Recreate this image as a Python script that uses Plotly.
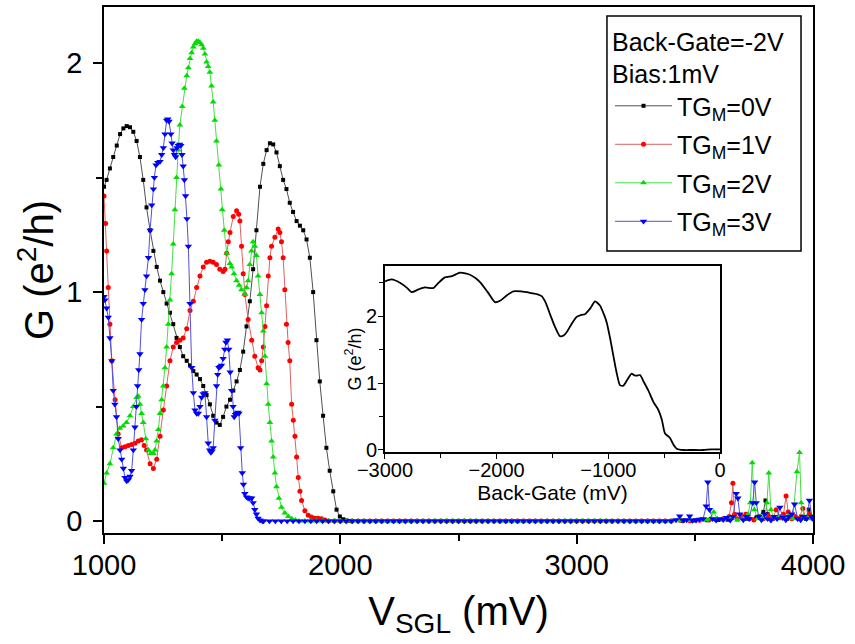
import plotly.graph_objects as go

# ---------------- data ----------------
# TG_M = 0 V (black)
B_V = [1000, 1011, 1025, 1039, 1054, 1068, 1082, 1096, 1110, 1124,
       1138, 1152, 1166, 1180, 1195, 1209, 1223, 1237, 1251, 1265,
       1279, 1293, 1307, 1321, 1335, 1350, 1364, 1378, 1392, 1406,
       1420, 1434, 1448, 1462, 1476, 1490, 1504, 1518, 1533, 1547,
       1561, 1575, 1589, 1603, 1617, 1631, 1645, 1660, 1674, 1688,
       1702, 1716, 1730, 1744, 1758, 1772, 1786, 1800, 1815, 1829,
       1843, 1857, 1871, 1885, 1899, 1913, 1927, 1941, 1955, 1970,
       1984, 1998, 2012, 2026, 2040]
B_G = [1.46, 1.49, 1.54, 1.59, 1.64, 1.69, 1.715, 1.725, 1.72, 1.70,
       1.66, 1.59, 1.49, 1.37, 1.27, 1.18, 1.11, 1.05, 1.00, 0.95,
       0.91, 0.86, 0.80, 0.76, 0.72, 0.70, 0.68, 0.655, 0.64, 0.62,
       0.59, 0.55, 0.51, 0.46, 0.43, 0.42, 0.455, 0.50, 0.53, 0.57,
       0.61, 0.66, 0.74, 0.85, 0.96, 1.10, 1.27, 1.46, 1.56, 1.62,
       1.65, 1.645, 1.61, 1.55, 1.49, 1.45, 1.39, 1.35, 1.31, 1.29,
       1.27, 1.23, 1.15, 1.00, 0.79, 0.61, 0.46, 0.32, 0.22, 0.13,
       0.05, 0.02, 0.008, 0.003, 0.0]
B_TAIL_V = [3400, 3450, 3500, 3550, 3600, 3640, 3680, 3720, 3760, 3790,
            3799, 3808, 3830, 3860, 3890, 3920, 3950, 3970, 3982, 3995]
B_TAIL_G = [0.0, 0.002, 0.003, 0.004, 0.005, 0.006, 0.008, 0.01, 0.015, 0.04,
            0.09, 0.03, 0.01, 0.02, 0.01, 0.015, 0.02, 0.01, 0.05, 0.02]

# TG_M = 1 V (red)
R_V = [1000, 1007, 1011, 1018, 1025, 1033, 1047, 1060, 1075, 1089,
       1103, 1117, 1131, 1145, 1159, 1170, 1180, 1195, 1209, 1223,
       1237, 1251, 1265, 1279, 1293, 1307, 1321, 1335, 1350, 1364,
       1378, 1392, 1406, 1420, 1434, 1448, 1462, 1476, 1490, 1504,
       1512, 1519, 1526, 1533, 1547, 1561, 1570, 1575, 1582, 1589,
       1596, 1610, 1625, 1638, 1652, 1660, 1667, 1674, 1681, 1688,
       1695, 1702, 1709, 1723, 1737, 1744, 1751, 1758, 1765, 1772,
       1779, 1786, 1794, 1801, 1808, 1815, 1822, 1829, 1836, 1850,
       1864, 1878, 1892, 1906, 1920, 1935, 1950]
R_G = [1.42, 1.30, 1.18, 1.02, 0.86, 0.70, 0.53, 0.38, 0.32, 0.325,
       0.33, 0.335, 0.34, 0.35, 0.355, 0.33, 0.31, 0.25, 0.23, 0.27,
       0.37, 0.485, 0.59, 0.70, 0.76, 0.78, 0.79, 0.80, 0.84, 0.92,
       0.96, 1.02, 1.07, 1.11, 1.13, 1.135, 1.13, 1.12, 1.10, 1.09,
       1.10, 1.17, 1.22, 1.26, 1.33, 1.355, 1.34, 1.31, 1.20, 1.08,
       0.99, 0.88, 0.79, 0.72, 0.67, 0.66, 0.70, 0.76, 0.85, 0.94,
       1.07, 1.15, 1.20, 1.24, 1.275, 1.26, 1.22, 1.15, 1.01, 0.86,
       0.78, 0.70, 0.51, 0.44, 0.37, 0.28, 0.19, 0.13, 0.09, 0.045,
       0.026, 0.018, 0.012, 0.012, 0.01, 0.005, 0.0]
R_TAIL_V = [3400, 3440, 3480, 3520, 3560, 3590, 3620, 3645, 3655, 3661,
            3668, 3680, 3700, 3716, 3730, 3750, 3770, 3790, 3810, 3830,
            3844, 3860, 3875, 3886, 3895, 3910, 3925, 3940, 3957, 3970,
            3985, 4000]
R_TAIL_G = [0.0, 0.003, 0.002, 0.004, 0.005, 0.006, 0.01, 0.02, 0.08, 0.165,
            0.03, 0.01, 0.02, 0.03, 0.01, 0.005, 0.02, 0.01, 0.025, 0.01,
            0.05, 0.015, 0.03, 0.11, 0.04, 0.01, 0.02, 0.01, 0.055, 0.015,
            0.03, 0.01]

# TG_M = 2 V (green)
G_V = [1000, 1011, 1025, 1039, 1053, 1067, 1081, 1095, 1110, 1124,
       1138, 1145, 1152, 1159, 1166, 1177, 1188, 1198, 1209, 1216,
       1223, 1230, 1237, 1244, 1251, 1258, 1265, 1272, 1279, 1286,
       1293, 1300, 1307, 1314, 1321, 1331, 1340, 1350, 1357, 1364,
       1371, 1378, 1385, 1392, 1399, 1406, 1413, 1420, 1427, 1434,
       1441, 1448, 1455, 1462, 1469, 1476, 1486, 1495, 1500, 1509,
       1519, 1533, 1540, 1550, 1561, 1572, 1582, 1596, 1603, 1610,
       1617, 1624, 1631, 1638, 1645, 1652, 1660, 1667, 1674, 1681,
       1688, 1695, 1702, 1709, 1716, 1723, 1730, 1740, 1751, 1765,
       1780, 1795, 1810, 1825]
G_G = [0.165, 0.21, 0.25, 0.32, 0.38, 0.405, 0.415, 0.43, 0.46, 0.50,
       0.54, 0.545, 0.51, 0.47, 0.43, 0.36, 0.31, 0.295, 0.295, 0.31,
       0.35, 0.40, 0.47, 0.53, 0.59, 0.67, 0.76, 0.86, 0.965, 1.08,
       1.21, 1.36, 1.50, 1.62, 1.73, 1.81, 1.89, 1.945, 1.98, 2.02,
       2.045, 2.07, 2.085, 2.095, 2.095, 2.09, 2.08, 2.065, 2.04, 2.005,
       1.985, 1.96, 1.90, 1.83, 1.75, 1.66, 1.555, 1.45, 1.36, 1.27,
       1.17, 1.125, 1.11, 1.08, 1.05, 1.03, 1.01, 0.99, 1.02, 1.05,
       1.12, 1.18, 1.22, 1.20, 1.16, 1.07, 0.99, 0.91, 0.83, 0.72,
       0.60, 0.51, 0.43, 0.35, 0.28, 0.21, 0.15, 0.10, 0.06, 0.035,
       0.02, 0.01, 0.005, 0.0]
G_TAIL_V = [3400, 3440, 3480, 3520, 3550, 3565, 3580, 3595, 3620, 3650,
            3680, 3705, 3725, 3735, 3743, 3752, 3765, 3780, 3795, 3805,
            3813, 3822, 3835, 3855, 3875, 3895, 3915, 3932, 3943, 3950,
            3962, 3980, 4000]
G_TAIL_G = [0.0, 0.002, 0.003, 0.004, 0.005, 0.01, 0.04, 0.01, 0.005, 0.01,
            0.005, 0.01, 0.03, 0.08, 0.255, 0.05, 0.01, 0.02, 0.01, 0.08,
            0.21, 0.05, 0.01, 0.02, 0.01, 0.02, 0.01, 0.215, 0.30, 0.08,
            0.02, 0.01, 0.02]

# TG_M = 3 V (blue)
U_V = [1000, 1004, 1011, 1018, 1025, 1033, 1039, 1046, 1053, 1060,
       1068, 1075, 1082, 1089, 1096, 1103, 1110, 1117, 1124, 1131,
       1137, 1142, 1147, 1152, 1159, 1166, 1173, 1180, 1188, 1195,
       1202, 1209, 1213, 1220, 1228, 1237, 1244, 1251, 1258, 1265,
       1270, 1275, 1283, 1288, 1293, 1298, 1303, 1309, 1314, 1320,
       1325, 1330, 1335, 1340, 1345, 1351, 1357, 1364, 1371, 1378,
       1385, 1392, 1399, 1406, 1413, 1420, 1427, 1434, 1441, 1447,
       1452, 1457, 1462, 1469, 1476, 1481, 1486, 1492, 1497, 1504,
       1511, 1516, 1522, 1528, 1534, 1540, 1546, 1551, 1556, 1561,
       1566, 1571, 1578, 1585, 1590, 1596, 1603, 1610, 1617, 1625,
       1631, 1638, 1645, 1652, 1660, 1670]
U_G = [0.98, 0.965, 0.93, 0.89, 0.80, 0.70, 0.57, 0.51, 0.455, 0.36,
       0.31, 0.27, 0.23, 0.19, 0.175, 0.18, 0.195, 0.22, 0.31, 0.41,
       0.50, 0.59, 0.66, 0.73, 0.88, 0.95, 1.01, 1.07, 1.15, 1.27,
       1.38, 1.45, 1.50, 1.555, 1.565, 1.57, 1.60, 1.63, 1.69, 1.75,
       1.755, 1.745, 1.69, 1.65, 1.62, 1.60, 1.59, 1.63, 1.64, 1.645,
       1.64, 1.60, 1.55, 1.49, 1.42, 1.32, 1.20, 0.95, 0.67, 0.56,
       0.485, 0.47, 0.47, 0.50, 0.54, 0.555, 0.56, 0.455, 0.34, 0.31,
       0.30, 0.305, 0.32, 0.44, 0.59, 0.64, 0.67, 0.675, 0.68, 0.71,
       0.75, 0.78, 0.79, 0.75, 0.65, 0.57, 0.50, 0.455, 0.465, 0.47,
       0.475, 0.47, 0.32, 0.21, 0.16, 0.12, 0.105, 0.10, 0.10, 0.10,
       0.08, 0.05, 0.03, 0.012, 0.004, 0.0]
U_TAIL_V = [3400, 3420, 3436, 3450, 3465, 3478, 3490, 3505, 3520, 3535,
            3548, 3555, 3562, 3575, 3590, 3605, 3620, 3635, 3650, 3662,
            3675, 3682, 3690, 3705, 3718, 3730, 3745, 3753, 3760, 3770,
            3782, 3795, 3808, 3822, 3835, 3848, 3860, 3872, 3885, 3898,
            3910, 3922, 3935, 3948, 3960, 3972, 3985, 3995, 4000]
U_TAIL_G = [0.0, 0.005, 0.022, 0.003, 0.005, 0.022, 0.003, 0.004, 0.008, 0.01,
            0.065, 0.17, 0.05, 0.01, 0.004, 0.01, 0.006, 0.015, 0.004, 0.02,
            0.12, 0.10, 0.03, 0.005, 0.02, 0.01, 0.08, 0.17, 0.08, 0.02,
            0.005, 0.03, 0.01, 0.004, 0.02, 0.01, 0.06, 0.015, 0.005, 0.02,
            0.03, 0.074, 0.01, 0.005, 0.02, 0.01, 0.09, 0.02, 0.01]

# the flat (pinched-off) stretch shared by all four sweeps
FLAT_V = [1675, 1700, 1725, 1750, 1775, 1800, 1825, 1850, 1875, 1900,
          1925, 1950, 1975, 2000, 2025, 2050, 2075, 2100, 2125, 2150,
          2175, 2200, 2225, 2250, 2275, 2300, 2325, 2350, 2375, 2400,
          2425, 2450, 2475, 2500, 2525, 2550, 2575, 2600, 2625, 2650,
          2675, 2700, 2725, 2750, 2775, 2800, 2825, 2850, 2875, 2900,
          2925, 2950, 2975, 3000, 3025, 3050, 3075, 3100, 3125, 3150,
          3175, 3200, 3225, 3250, 3275, 3300, 3325, 3350, 3375]
FLAT_G = [0.0, 0.0, 0.0, 0.0, 0.0, 0.0, 0.0, 0.0, 0.0, 0.0,
          0.0, 0.0, 0.0, 0.0, 0.0, 0.0, 0.0, 0.0, 0.0, 0.0,
          0.0, 0.0, 0.0, 0.0, 0.0, 0.0, 0.0, 0.0, 0.0, 0.0,
          0.0, 0.0, 0.0, 0.0, 0.0, 0.0, 0.0, 0.0, 0.0, 0.0,
          0.0, 0.0, 0.0, 0.0, 0.0, 0.0, 0.0, 0.0, 0.0, 0.0,
          0.0, 0.0, 0.0, 0.0, 0.0, 0.0, 0.0, 0.0, 0.0, 0.0,
          0.0, 0.0, 0.0, 0.0, 0.0, 0.0, 0.0, 0.0, 0.0, 0.0]

# inset: G vs back-gate
INSET_V = [-3000, -2940, -2866, -2800, -2761, -2700, -2642, -2567, -2520, -2463,
           -2400, -2328, -2280, -2239, -2190, -2149, -2080, -2015, -1970, -1910,
           -1851, -1780, -1701, -1640, -1597, -1560, -1522, -1480, -1433, -1400,
           -1373, -1330, -1284, -1240, -1209, -1160, -1119, -1075, -1040, -1015,
           -985, -955, -925, -896, -866, -830, -791, -770, -746, -716,
           -680, -642, -597, -552, -520, -493, -448, -420, -388, -328,
           -250, -149, -80, 0]
INSET_G = [2.52, 2.55, 2.50, 2.42, 2.36, 2.40, 2.43, 2.42, 2.50, 2.58,
           2.60, 2.65, 2.64, 2.62, 2.57, 2.51, 2.36, 2.21, 2.23, 2.31,
           2.37, 2.37, 2.35, 2.33, 2.30, 2.20, 2.03, 1.85, 1.70, 1.71,
           1.76, 1.88, 1.99, 2.02, 2.03, 2.12, 2.22, 2.16, 2.03, 1.91,
           1.68, 1.41, 1.15, 0.97, 0.96, 1.05, 1.14, 1.12, 1.11, 1.12,
           1.01, 0.89, 0.72, 0.60, 0.45, 0.25, 0.18, 0.09, 0.02, 0.0,
           0.0, 0.0, 0.01, 0.01]

X_TICKS = [1000, 2000, 3000, 4000]
Y_TICKS = [0, 1, 2]
INSET_X_TICKS = [-3000, -2000, -1000, 0]
INSET_Y_TICKS = [0, 1, 2]

NAMES = ["TG<sub>M</sub>=0V", "TG<sub>M</sub>=1V", "TG<sub>M</sub>=2V", "TG<sub>M</sub>=3V"]
LEGEND_TITLE = "Back-Gate=-2V<br>Bias:1mV"


def build(cv, cg, tv, tg):
    last = cv[-1]
    fv = [v for v, g in zip(FLAT_V, FLAT_G) if last < v < tv[0]]
    fg = [g for v, g in zip(FLAT_V, FLAT_G) if last < v < tv[0]]
    return cv + fv + tv, cg + fg + tg


FONT = "Liberation Sans, Arial, sans-serif"

series = [
    (B_V, B_G, B_TAIL_V, B_TAIL_G, "#000000", "#505050", "square", 4),
    (R_V, R_G, R_TAIL_V, R_TAIL_G, "#ff0000", "#e06060", "circle", 5),
    (G_V, G_G, G_TAIL_V, G_TAIL_G, "#00dd00", "#44e044", "triangle-up", 6),
    (U_V, U_G, U_TAIL_V, U_TAIL_G, "#0000ff", "#5050e0", "triangle-down", 6.5),
]

fig = go.Figure()
for i, (cv, cg, tv, tg, mc, lc, sym, ms) in enumerate(series):
    xv, yv = build(cv, cg, tv, tg)
    fig.add_trace(go.Scatter(
        x=xv, y=yv, mode="lines+markers", name=NAMES[i], legendgroup=str(i),
        line=dict(color=lc, width=1),
        marker=dict(color=mc, symbol=sym, size=ms, line=dict(width=0)),
        xaxis="x", yaxis="y"))

fig.add_trace(go.Scatter(
    x=INSET_V, y=INSET_G, mode="lines", showlegend=False,
    line=dict(color="black", width=1.8, shape="spline", smoothing=0.6),
    xaxis="x2", yaxis="y2"))

axis_common = dict(showgrid=False, zeroline=False, showline=True, linecolor="black",
                   mirror=True, ticks="outside", tickcolor="black", automargin=False)

fig.update_layout(
    width=855, height=644,
    margin=dict(l=104, r=42, t=7, b=111),
    paper_bgcolor="white", plot_bgcolor="white",
    font=dict(family=FONT, color="black"),
    xaxis=dict(axis_common, range=[1000, 4000], tickvals=X_TICKS, linewidth=1.5,
               tickwidth=1.5, ticklen=9,
               minor=dict(tickvals=[1500, 2500, 3500], ticklen=6, tickwidth=1.5, ticks="outside"),
               tickfont=dict(size=29), ticklabelstandoff=-4,
               title=dict(text="V<sub>SGL</sub> (mV)", font=dict(size=40), standoff=17),
               domain=[0, 1]),
    yaxis=dict(axis_common, range=[-0.052, 2.245], tickvals=Y_TICKS, linewidth=1.5,
               tickwidth=1.5, ticklen=9,
               minor=dict(tickvals=[0.5, 1.5], ticklen=6, tickwidth=1.5, ticks="outside"),
               tickfont=dict(size=29), ticklabelstandoff=5,
               title=dict(text="G (e<sup>2</sup>/h)", font=dict(size=40), standoff=0),
               domain=[0, 1]),
    xaxis2=dict(axis_common, range=[-3000, 0], tickvals=INSET_X_TICKS, anchor="y2",
                linewidth=1.5, tickwidth=1.2, ticklen=5,
                minor=dict(tickvals=[-2500, -1500, -500], ticklen=4, tickwidth=1.2, ticks="outside"),
                tickfont=dict(size=20), ticklabelstandoff=-6,
                title=dict(text="Back-Gate (mV)", font=dict(size=21), standoff=2),
                domain=[0.3963, 0.8688]),
    yaxis2=dict(axis_common, range=[-0.03, 2.75], tickvals=INSET_Y_TICKS, anchor="x2",
                linewidth=1.5, tickwidth=1.2, ticklen=5,
                minor=dict(tickvals=[0.5, 1.5, 2.5], ticklen=4, tickwidth=1.2, ticks="outside"),
                tickfont=dict(size=20), ticklabelstandoff=-3,
                title=dict(text="G (e<sup>2</sup>/h)", font=dict(size=18), standoff=0),
                domain=[0.154, 0.5076]),
    legend=dict(x=0.7137, y=0.979, xanchor="left", yanchor="top",
                borderwidth=0, bgcolor="rgba(0,0,0,0)", itemwidth=57,
                font=dict(size=25, family=FONT), tracegroupgap=3,
                title=dict(text=LEGEND_TITLE, font=dict(size=25, family=FONT))),
    showlegend=True,
    shapes=[dict(type="rect", xref="paper", yref="paper",
                 x0=0.7094, x1=0.9831, y0=0.5361, y1=0.9829,
                 line=dict(color="black", width=1.5), fillcolor="white", layer="below")],
)

fig.write_html("out.html", config={"displayModeBar": False},
               post_script="document.body.style.margin='0';document.body.style.padding='0';")
